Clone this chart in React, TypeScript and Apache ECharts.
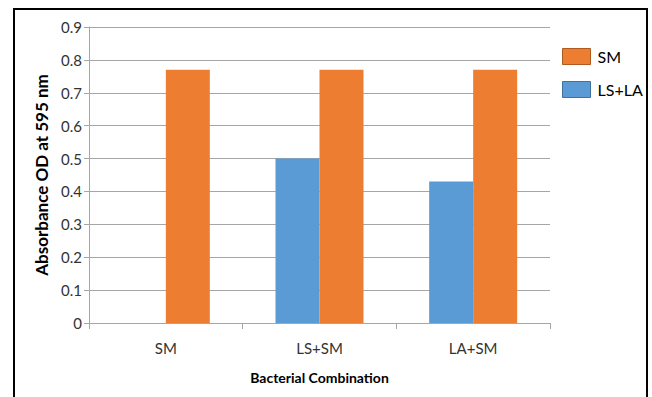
import React, { useEffect, useRef } from "react";
import * as echarts from "echarts";

const categories = ["SM", "LS+SM", "LA+SM"];
const seriesNames = ["SM", "LS+LA"];
const smValues = [0.77, 0.77, 0.77];
const lslaValues: (number | null)[] = [null, 0.5, 0.43];
const yTicks = { min: 0, max: 0.9, interval: 0.1 };

export default function App() {
  const ref = useRef<HTMLDivElement>(null);
  useEffect(() => {
    if (!ref.current) return;
    const chart = echarts.init(ref.current, null, { renderer: "svg" });
    const font = "Lato, 'Open Sans', sans-serif";
    chart.setOption({
      animation: false,
      backgroundColor: "#ffffff",
      textStyle: { fontFamily: font },
      graphic: [
        {
          type: "rect",
          shape: { x: 14, y: 9, width: 633, height: 400 },
          style: { fill: "none", stroke: "#000", lineWidth: 2 },
          silent: true,
        },
      ],
      grid: { left: 89, top: 27, right: 102, bottom: 74, containLabel: false },
      legend: {
        data: [
          { name: seriesNames[0], itemStyle: { borderColor: "#AE5A21", borderWidth: 1 } },
          { name: seriesNames[1], itemStyle: { borderColor: "#41719C", borderWidth: 1 } },
        ],
        orient: "vertical",
        left: 557,
        top: 43,
        itemWidth: 28,
        itemHeight: 16,
        itemGap: 16,
        icon: "rect",
        textStyle: { fontSize: 16, color: "#000", fontFamily: font, padding: [0, 0, 0, 2] },
      },
      xAxis: {
        type: "category",
        data: categories,
        name: "Bacterial Combination",
        nameLocation: "middle",
        nameGap: 47,
        nameTextStyle: { fontWeight: "bold", fontSize: 14, color: "#000", fontFamily: font },
        axisLine: { lineStyle: { color: "#a6a6a6" } },
        axisTick: { show: true, length: 6, lineStyle: { color: "#a6a6a6" } },
        axisLabel: { color: "#333", fontSize: 15, margin: 17, fontFamily: font },
      },
      yAxis: {
        type: "value",
        min: yTicks.min,
        max: yTicks.max,
        interval: yTicks.interval,
        name: "Absorbance OD at 595 nm",
        nameLocation: "middle",
        nameGap: 39,
        nameTextStyle: { fontWeight: "bold", fontSize: 17, color: "#000", fontFamily: font },
        axisLine: { show: true, lineStyle: { color: "#a6a6a6" } },
        axisTick: { show: true, length: 5, lineStyle: { color: "#a6a6a6" } },
        axisLabel: { color: "#333", fontSize: 15, margin: 7, fontFamily: font },
        splitLine: { lineStyle: { color: "#a6a6a6", width: 1 } },
      },
      series: [
        {
          name: seriesNames[1],
          type: "bar",
          data: lslaValues,
          barWidth: 44,
          barGap: "0%",
          itemStyle: { color: "#5B9BD5" },
        },
        {
          name: seriesNames[0],
          type: "bar",
          data: smValues,
          barWidth: 44,
          barGap: "0%",
          itemStyle: { color: "#ED7D31" },
        },
      ],
    });
    return () => chart.dispose();
  }, []);
  return (
    <div
      ref={ref}
      style={{ position: "fixed", left: 0, top: 0, width: 652, height: 397 }}
    />
  );
}
